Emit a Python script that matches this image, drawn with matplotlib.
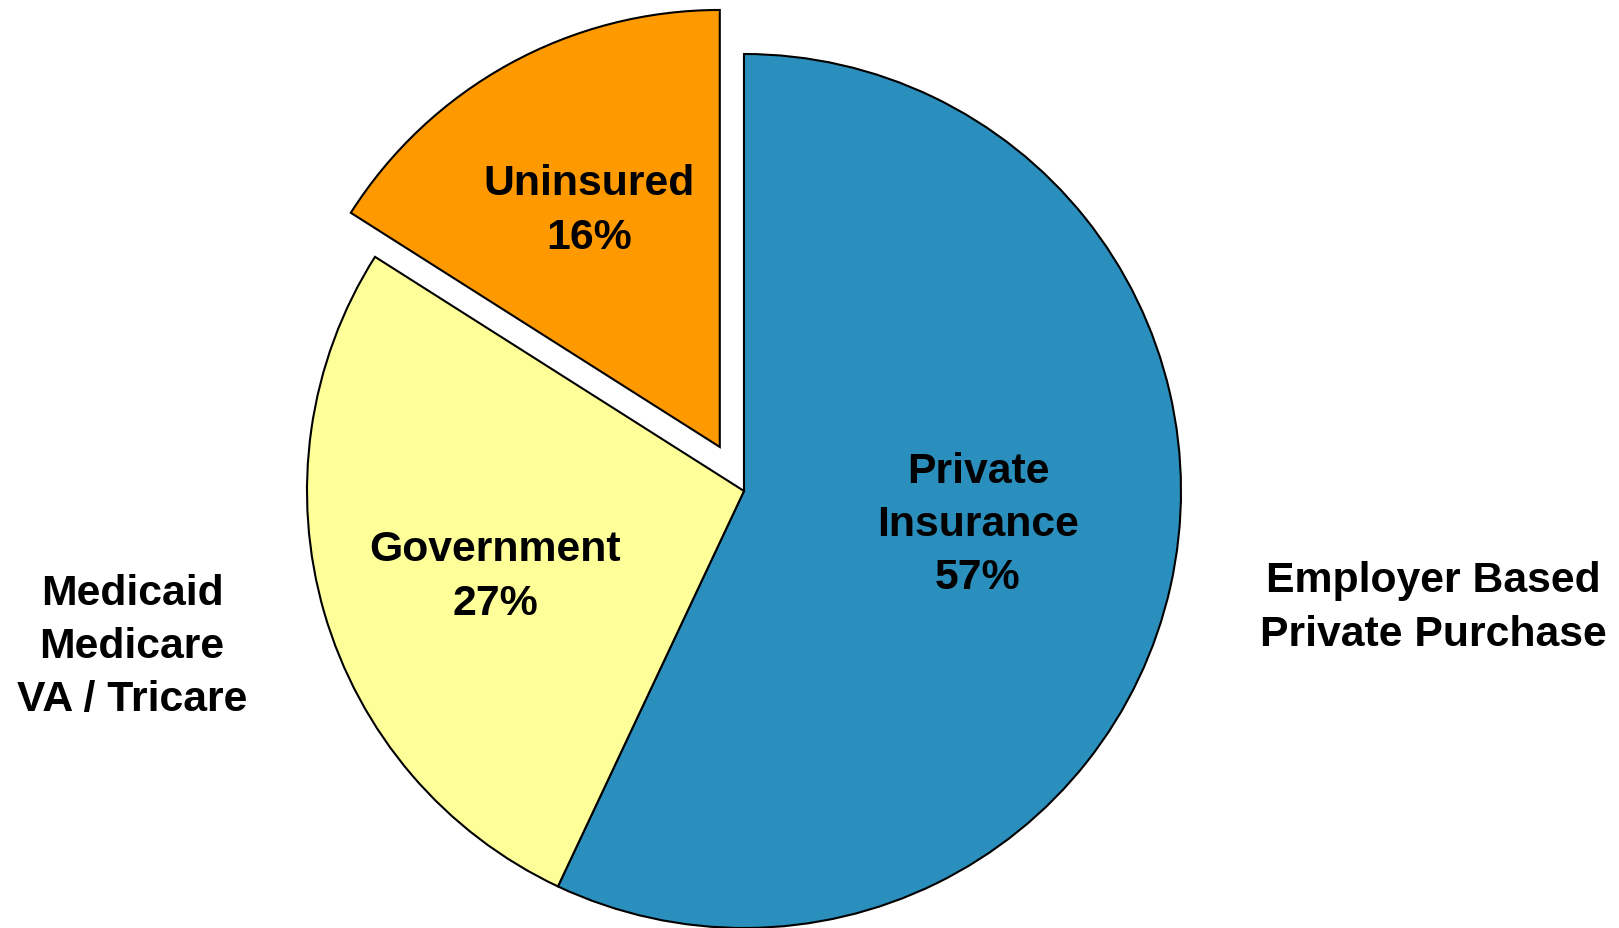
import matplotlib
matplotlib.use("Agg")
import matplotlib.pyplot as plt

categories = ["Private\nInsurance", "Government", "Uninsured"]
values = [57, 27, 16]
colors = ["#2A8FBD", "#FFFF99", "#FF9900"]
side_notes = ["Employer Based\nPrivate Purchase", "Medicaid\nMedicare\nVA / Tricare"]

W, H = 1619, 929
fig = plt.figure(figsize=(W / 100, H / 100), dpi=100)
ax = fig.add_axes([0, 0, 1, 1])

cx, cy, r = 744, H - 492, 437
explode = [0, 0, 0.115 * r]  # pie explode is in data units
ax.pie(values, colors=colors, explode=explode, startangle=90, counterclock=False,
       center=(cx, cy), radius=r, frame=True,
       wedgeprops=dict(edgecolor="black", linewidth=1.5))
ax.set_xlim(0, W)
ax.set_ylim(0, H)
ax.set_aspect("equal")
ax.axis("off")

font = dict(family=["Liberation Sans", "DejaVu Sans"], fontweight="bold", fontsize=30.8,
            ha="center", va="center", linespacing=1.42)

label_pos = [(978, H - 525), (495, H - 577), (589, H - 211)]
for (x, y), c, v in zip(label_pos, categories, values):
    ax.text(x, y, f"{c}\n{v}%", **font)

ax.text(1433, H - 608, side_notes[0], **font)
ax.text(132, H - 647, side_notes[1], **font)

fig.savefig("out.png", dpi=100)
